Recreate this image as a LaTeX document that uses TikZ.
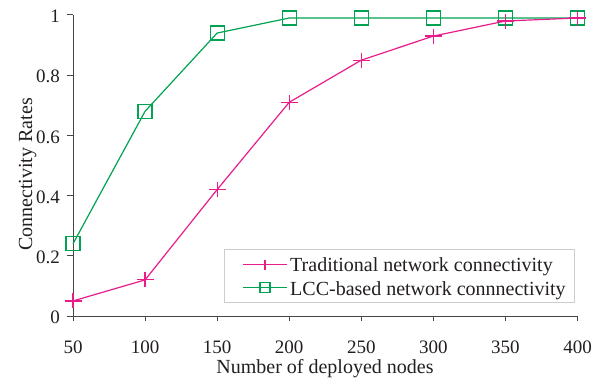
\documentclass[tikz,border=0pt]{standalone}
\usepackage{fontspec}
\setmainfont{Liberation Serif}
\definecolor{tradc}{RGB}{232,28,138}
\definecolor{lccc}{RGB}{0,163,82}
\definecolor{axisc}{RGB}{70,70,70}
\definecolor{textc}{RGB}{35,31,32}
\definecolor{legc}{RGB}{205,205,205}
\tikzset{
  trad/.style={draw=tradc, line width=1.2pt},
  lcc/.style={draw=lccc, line width=1.2pt},
  axisline/.style={draw=axisc, line width=1pt},
  ticklab/.style={text=textc, inner sep=0pt, font=\fontsize{19}{22}\selectfont},
  biglab/.style={text=textc, inner sep=0pt, font=\fontsize{20}{24}\selectfont},
}
\begin{document}
\begin{tikzpicture}[x=1pt,y=-1pt]
\useasboundingbox (0,0) rectangle (602,382);
% data coordinates
\foreach \n/\v/\a/\b in {1/50/0.05/0.24, 2/100/0.12/0.68, 3/150/0.42/0.94, 4/200/0.71/0.99, 5/250/0.85/0.99, 6/300/0.93/0.99, 7/350/0.98/0.99, 8/400/0.99/0.99}{
  \coordinate (t\n) at ({73+(\v-50)*1.4414},{316-301*\a});
  \coordinate (l\n) at ({73+(\v-50)*1.4414},{316-301*\b});
}
% axes
\coordinate (ytop) at (73,15);
\coordinate (orig) at (73,316);
\coordinate (xend) at (577.5,316);
\draw[axisline] (ytop) -- (orig) -- (xend);
\foreach \r/\lab in {0/0, 0.2/0.2, 0.4/0.4, 0.6/0.6, 0.8/0.8, 1/1}{
  \draw[axisline] (67,{316-301*\r}) -- (73,{316-301*\r});
  \node[ticklab, anchor=east] (yl\lab) at (60,{317.5-301*\r}) {\lab};
}
\foreach \v in {50,100,...,400}{
  \draw[axisline] ({73+(\v-50)*1.4414},316) -- ({73+(\v-50)*1.4414},320.5);
  \node[ticklab, anchor=base] (xl\v) at ({73+(\v-50)*1.4414},353) {\v};
}
\node[biglab, anchor=base] (xlabel) at (325,373) {Number of deployed nodes};
\node[biglab, anchor=base, rotate=90] (ylabel) at (32,174.5) {Connectivity Rates};
% curves
\draw[lcc] (l1) -- (l2) -- (l3) -- (l4) -- (l5) -- (l6) -- (l7) -- (l8);
\draw[trad] (t1) -- (t2) -- (t3) -- (t4) -- (t5) -- (t6) -- (t7) -- (t8);
\foreach \n in {1,...,8}{
  \draw[lcc, shift={(l\n)}] (-7,-7) rectangle (7,7);
  \draw[trad, shift={(t\n)}] (-8.5,0) -- (8.5,0) (0,-7.5) -- (0,7.5);
}
% legend
\node[draw=legc, line width=1pt, fill=white, minimum width=350pt, minimum height=53pt, anchor=north west, inner sep=0pt] (legend) at (224,249) {};
\coordinate (ta) at (243,264.5);
\coordinate (tb) at (287,264.5);
\coordinate (la) at (243,287.5);
\coordinate (lb) at (287,287.5);
\draw[trad] (ta) -- (tb);
\draw[trad] (265,259.5) -- (265,269.5);
\draw[lcc] (la) -- (lb);
\draw[lcc] (260,282.5) rectangle (270,292.5);
\node[biglab, anchor=base west] (leg1) at (290,271.5) {Traditional network connectivity};
\node[biglab, anchor=base west] (leg2) at (290,295) {LCC-based network connnectivity};
\end{tikzpicture}
\end{document}
